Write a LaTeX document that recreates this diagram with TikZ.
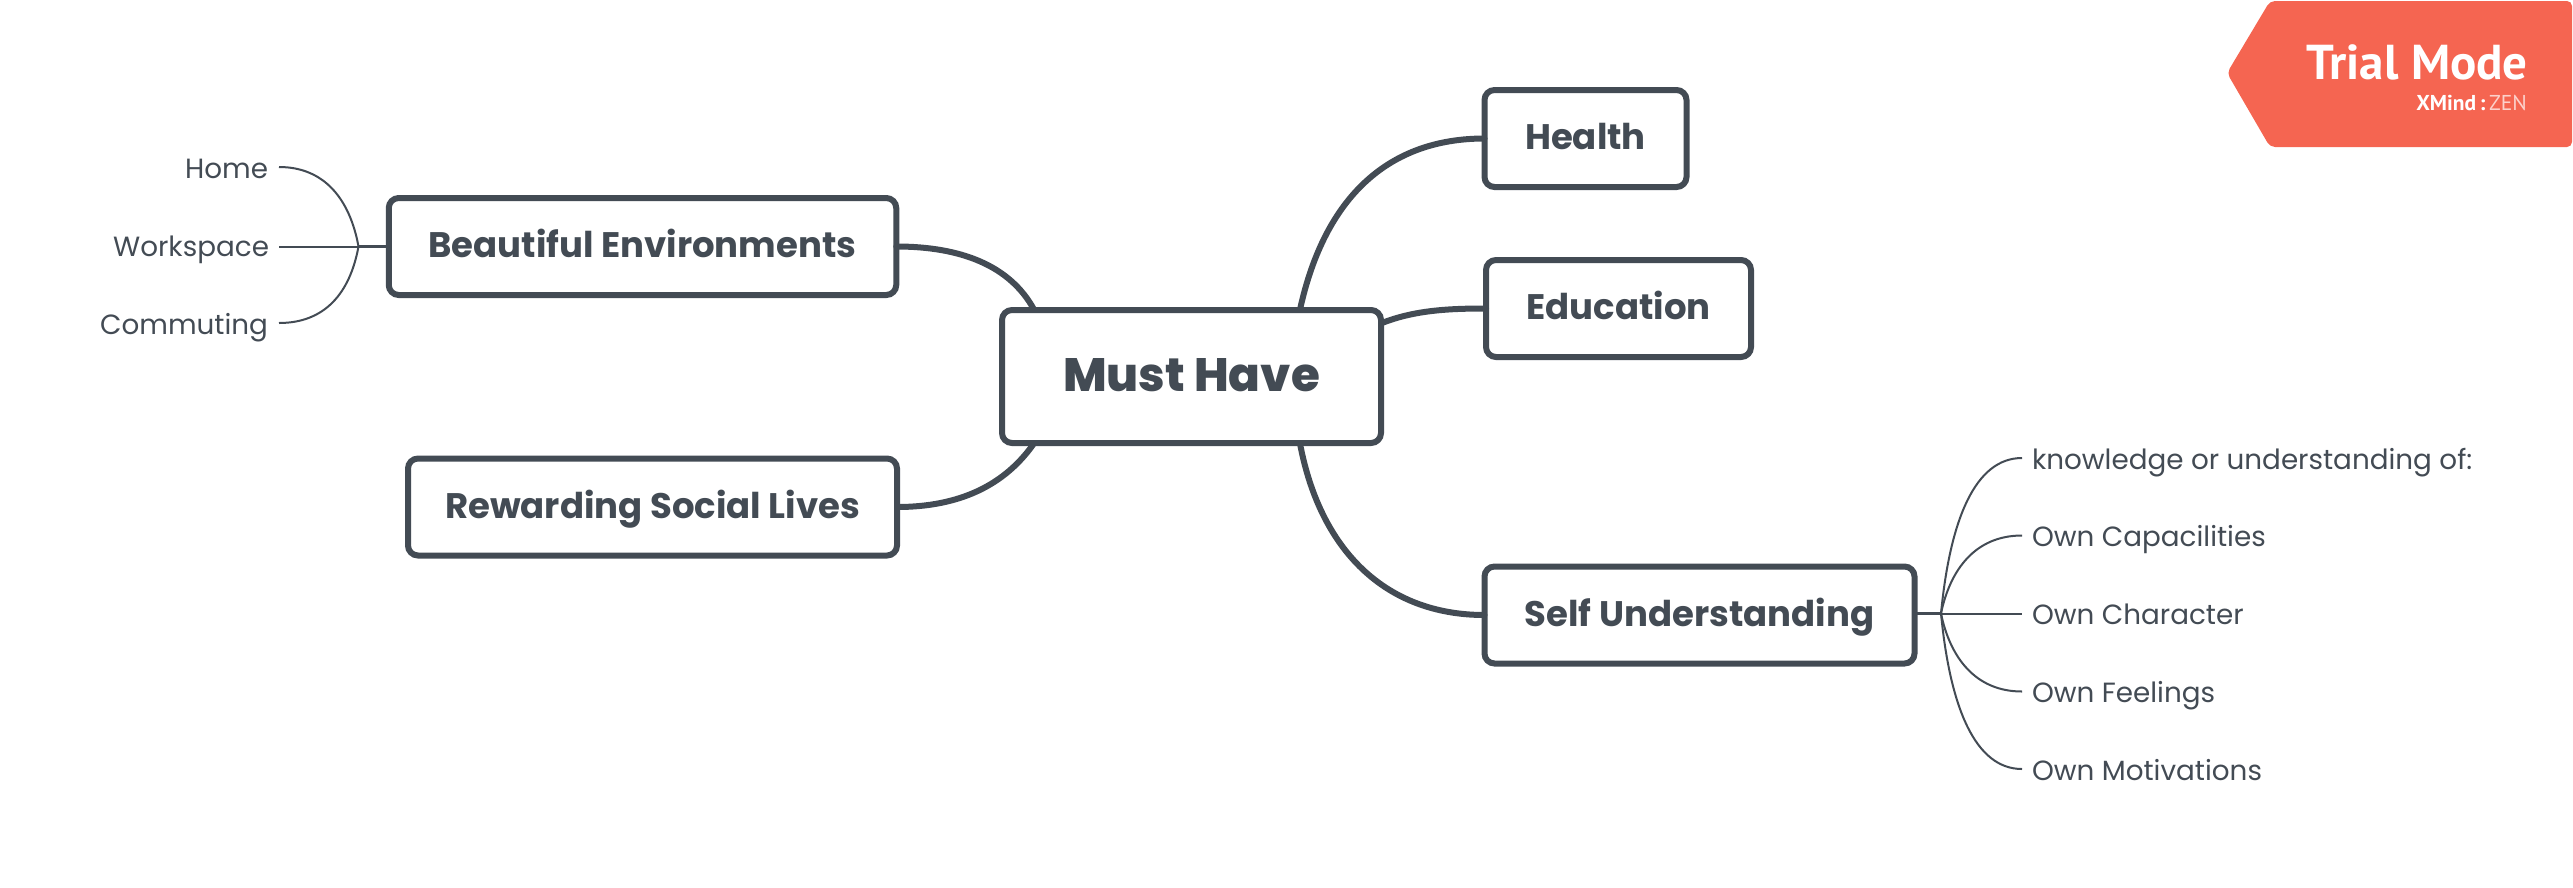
\documentclass[tikz,border=0pt]{standalone}
\usepackage{fontspec}
\usetikzlibrary{calc}
\setmainfont{Poppins}
\newfontfamily\rootfont{Poppins ExtraBold}
\newfontfamily\trialfont{PT Sans}
\definecolor{ink}{HTML}{434B54}
\definecolor{trial}{HTML}{F56551}
\tikzset{
  x=1pt,y=-1pt,
  boxnode/.style={draw=ink,fill=white,line width=6pt,rounded corners=10pt,outer sep=0pt,inner sep=0pt,text=ink,align=center},
  rootbox/.style={boxnode,text height=38pt,text depth=8pt,font=\rootfont\fontsize{46.8}{56}\selectfont},
  mainbox/.style={boxnode,text height=28pt,text depth=6pt,font=\fontsize{35.5}{42}\selectfont\bfseries},
  leafr/.style={anchor=base west,inner sep=0pt,outer sep=0pt,text=ink,font=\fontsize{27.8}{33}\selectfont},
  leafl/.style={anchor=base east,inner sep=0pt,outer sep=0pt,text=ink,font=\fontsize{27.8}{33}\selectfont},
  thick line/.style={draw=ink,line width=6pt,line cap=round},
  branch/.style={draw=ink,line width=3pt},
  thin line/.style={draw=ink,line width=2pt},
}
\begin{document}
\begin{tikzpicture}
\useasboundingbox (0,0) rectangle (2573,887);
% banner
\fill[trial,rounded corners=5pt] (2270,1) -- (2572,1) -- (2572,147) -- (2270,147) -- (2227,73) -- cycle;
\node[anchor=base east,inner sep=0pt,text=white,font=\trialfont\fontsize{49}{60}\selectfont\bfseries] (trialtxt) at (2528,79) {Trial Mode};
\node[anchor=base east,inner sep=0pt,text=white,font=\trialfont\fontsize{21.5}{26}\selectfont] (trialsub) at (2527,110) {\textbf{XMind}\,\textbf{:}\,\textcolor{white!70!trial}{ZEN}};
% nodes
\node[rootbox,minimum width=379pt,minimum height=133pt] (root) at (1191.5,376.5) {Must Have};
\node[mainbox,minimum width=202pt,minimum height=97pt] (health) at (1585.5,138.5) {Health};
\node[mainbox,minimum width=265pt,minimum height=97pt] (edu) at (1618.5,308.5) {Education};
\node[mainbox,minimum width=430pt,minimum height=97pt] (self) at (1699.5,615) {Self Understanding};
\node[mainbox,minimum width=507.5pt,minimum height=97pt] (env) at (642.5,246.5) {Beautiful Environments};
\node[mainbox,minimum width=489pt,minimum height=97pt] (social) at (652.5,507) {Rewarding Social Lives};
% leaves
\node[leafl] (home) at (268,178) {Home};
\node[leafl] (work) at (269,256) {Workspace};
\node[leafl] (comm) at (268,334) {Commuting};
\node[leafr] (k) at (2032,469) {knowledge or understanding of:};
\node[leafr] (cap) at (2032,546.5) {Own Capacilities};
\node[leafr] (char) at (2032,624.5) {Own Character};
\node[leafr] (feel) at (2032,702.5) {Own Feelings};
\node[leafr] (mot) at (2032,780.5) {Own Motivations};
% free ends
\coordinate (jl) at (358.5,246.5);
\coordinate (jr) at (1941,613.5);
\coordinate (e1) at (279,167);
\coordinate (e2) at (279,246.5);
\coordinate (e3) at (279,323);
\coordinate (r1) at (2022,458);
\coordinate (r2) at (2022,535.5);
\coordinate (r3) at (2022,613.5);
\coordinate (r4) at (2022,691.5);
\coordinate (r5) at (2022,769);
% thick connectors
\draw[thick line] ($(root.north west)!0.786!(root.north east)$) .. controls (1325,195) and (1390,138.5) .. (health.west);
\draw[thick line] (1382,323) .. controls (1415,310) and (1450,308.5) .. (edu.west);
\draw[thick line] ($(root.south west)!0.786!(root.south east)$) .. controls (1320,550) and (1385,615) .. (self.west);
\draw[thick line] (env.east) .. controls (960,246.5) and (1010,265) .. ($(root.north west)!0.085!(root.north east)$);
\draw[thick line] (social.east) .. controls (960,507) and (1005,485) .. ($(root.south west)!0.085!(root.south east)$);
% branches
\draw[branch] (env.west) -- (jl);
\draw[branch] (self.east |- jr) -- (jr);
\draw[thin line] (jl) .. controls (350,200) and (325,167) .. (e1);
\draw[thin line] (jl) -- (e2);
\draw[thin line] (jl) .. controls (350,293) and (325,323) .. (e3);
\draw[thin line] (jr) .. controls (1950,520) and (1975,458) .. (r1);
\draw[thin line] (jr) .. controls (1950,570) and (1975,535.5) .. (r2);
\draw[thin line] (jr) -- (r3);
\draw[thin line] (jr) .. controls (1950,657) and (1975,691.5) .. (r4);
\draw[thin line] (jr) .. controls (1950,707) and (1975,769) .. (r5);
\end{tikzpicture}
\end{document}
